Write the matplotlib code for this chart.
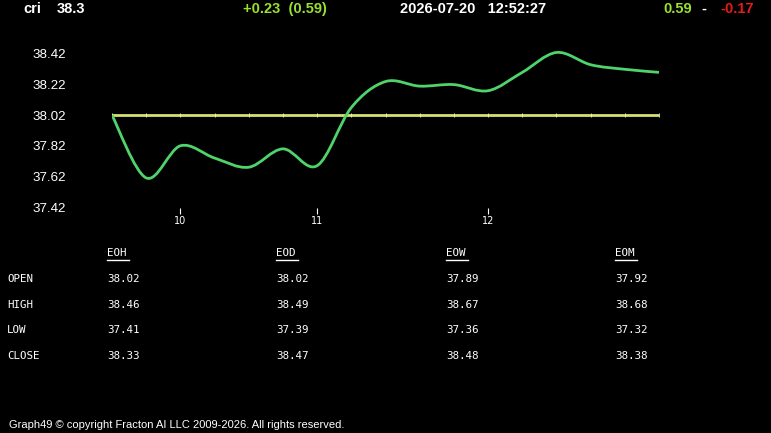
import numpy as np
import matplotlib
matplotlib.use("Agg")
import matplotlib.pyplot as plt
from matplotlib.path import Path
from matplotlib.patches import PathPatch

# 15 minute samples, gap between 11 and 12 is one slot longer
prices = [38.02, 37.61, 37.82, 37.74, 37.68, 37.80, 37.69, 38.07, 38.24,
          38.21, 38.22, 38.18, 38.30, 38.43, 38.35, 38.32, 38.30]
open_price = 38.02
hour_ticks = [2, 6, 11]
hour_labels = ["10", "11", "12"]
y_ticks = [37.42, 37.62, 37.82, 38.02, 38.22, 38.42]

stat_cols = ["EOH", "EOD", "EOW", "EOM"]
stat_rows = ["OPEN", "HIGH", "LOW", "CLOSE"]
stats = {
    "EOH": ["38.02", "38.46", "37.41", "38.33"],
    "EOD": ["38.02", "38.49", "37.39", "38.47"],
    "EOW": ["37.89", "38.67", "37.36", "38.48"],
    "EOM": ["37.92", "38.68", "37.32", "38.38"],
}

GREEN = "#4fd36a"
YELLOW = "#d6df72"
HDR_GREEN = "#9ae02e"
RED = "#e41b1b"


def smooth_path(xs, ys):
    # catmull-rom through the points, drawn as bezier segments
    xs = np.asarray(xs, float)
    ys = np.asarray(ys, float)
    pts = np.column_stack([xs, ys])
    verts = [pts[0]]
    codes = [Path.MOVETO]
    n = len(pts)
    for i in range(n - 1):
        p0 = pts[max(i - 1, 0)]
        p1 = pts[i]
        p2 = pts[i + 1]
        p3 = pts[min(i + 2, n - 1)]
        c1 = p1 + (p2 - p0) / 6
        c2 = p2 - (p3 - p1) / 6
        verts += [c1, c2, p2]
        codes += [Path.CURVE4] * 3
    return Path(verts, codes)


fig = plt.figure(figsize=(7.71, 4.33), dpi=100, facecolor="black")
ax = fig.add_axes([112 / 771, 1 - 208 / 433, (659 - 112) / 771, (208 - 40) / 433])
ax.set_facecolor("black")

x = np.arange(len(prices))
ax.plot([x[0], x[-1]], [open_price, open_price], color=YELLOW, lw=2, zorder=2)
ax.plot(x, [open_price] * len(x), ls="none", marker="|", ms=2.5, mew=0.6,
        color="#f2f4c4", zorder=3)
ax.add_patch(PathPatch(smooth_path(x, prices), fill=False, edgecolor=GREEN,
                       lw=2, zorder=4))

ax.set_xlim(0, len(prices) - 1)
ax.set_ylim(37.4135, 38.5115)
for s in ax.spines.values():
    s.set_visible(False)
ax.set_yticks(y_ticks)
ax.set_yticklabels([f"{v:.2f}" for v in y_ticks], color="white",
                   fontsize=9.6, family="Liberation Sans")
ax.tick_params(axis="y", length=0, pad=33)
ax.set_xticks(hour_ticks)
ax.set_xticklabels(hour_labels, color="white", fontsize=7, family="DejaVu Sans")
ax.tick_params(axis="x", length=4, color="white", width=0.8, pad=1.5, direction="out")

# header
hdr = dict(family="Liberation Sans", fontweight="bold", fontsize=10.5, va="center")
fig.text(23 / 771, 1 - 9 / 433, "cri", color="white", **hdr)
fig.text(57 / 771, 1 - 9 / 433, "38.3", color="white", **hdr)
fig.text(243 / 771, 1 - 9 / 433, "+0.23  (0.59)", color=HDR_GREEN, **hdr)
fig.text(400 / 771, 1 - 9 / 433, "2026-07-20   12:52:27", color="white", **hdr)
fig.text(663 / 771, 1 - 9 / 433, "0.59", color=HDR_GREEN, **hdr)
fig.text(701 / 771, 1 - 9 / 433, "-", color="white", **hdr)
fig.text(720 / 771, 1 - 9 / 433, "-0.17", color=RED, **hdr)

# stats table
mono = dict(family="DejaVu Sans Mono", fontsize=7.8, color="white", va="center")
col_x = [107, 276, 446, 615]
row_y = [279, 305, 330, 356]
for name, cx in zip(stat_cols, col_x):
    fig.text(cx / 771, 1 - 253 / 433, name, **mono)
    fig.add_artist(plt.Line2D([cx / 771, (cx + 22) / 771],
                              [1 - 260 / 433, 1 - 260 / 433],
                              color="white", lw=1))
    for val, ry in zip(stats[name], row_y):
        fig.text(cx / 771, 1 - ry / 433, val, **mono)
for lab, ry in zip(stat_rows, row_y):
    fig.text(7 / 771, 1 - ry / 433, lab, **mono)

fig.text(9 / 771, 1 - 425 / 433,
         "Graph49 © copyright Fracton AI LLC 2009-2026. All rights reserved.",
         color="white", fontsize=8, family="Liberation Sans", va="center")

fig.savefig("out.png", dpi=100, facecolor="black")
